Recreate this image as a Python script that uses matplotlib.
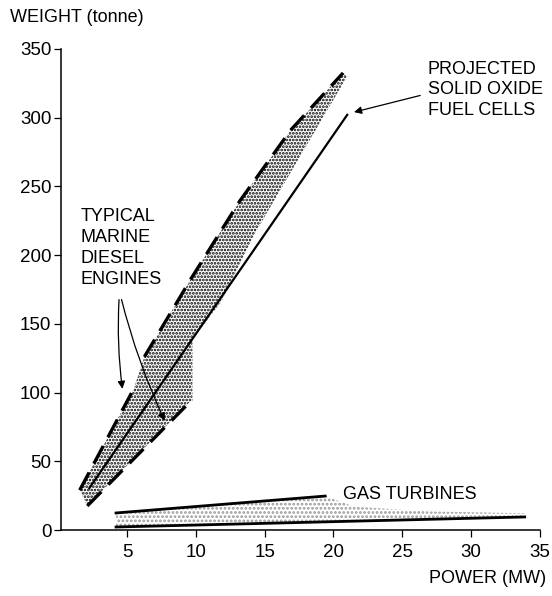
#!/usr/bin/env python3
"""Weight vs power: marine diesels, SOFC and gas turbines."""

import matplotlib

matplotlib.use("Agg")
import matplotlib.pyplot as plt

plt.rcParams["font.family"] = ["Liberation Sans", "DejaVu Sans"]
plt.rcParams["hatch.linewidth"] = 1.3

# diesel band, left (dashed) edge, lower and upper parts
diesel_low_left_x = [1.56, 5.5]
diesel_low_left_y = [29, 103]
diesel_up_left_x = [6.26, 9.6, 13.17, 16.9, 20.7]
diesel_up_left_y = [126, 182, 239, 291, 332.5]
# diesel band, right (dashed) edge of the small engines
diesel_low_right_x = [2.11, 9.65]
diesel_low_right_y = [17.5, 94]
# undrawn right edge of the stippled area (top to bottom)
diesel_edge_x = [21.0, 18.7, 14.3, 11.9, 10.0, 9.75, 9.75]
diesel_edge_y = [330, 291, 216, 167, 142, 140, 94]

# projected solid oxide fuel cells
sofc_x = [2.26, 21.0]
sofc_y = [30.5, 302]

# gas turbines
gt_upper_x = [4.2, 19.4]
gt_upper_y = [12.4, 24.7]
gt_lower_x = [4.2, 33.9]
gt_lower_y = [2.2, 9.5]
gt_fade_x = [19.4, 21.5, 27.0, 33.9]
gt_fade_y = [24.7, 17.0, 13.5, 12.2]

x_ticks = [5, 10, 15, 20, 25, 30, 35]
y_ticks = [0, 50, 100, 150, 200, 250, 300, 350]


def main() -> int:
    fig = plt.figure(figsize=(5.52, 5.96), dpi=100)
    ax = fig.add_axes([0.1105, 0.1107, 0.978 - 0.1105, 0.918 - 0.1107])

    # diesel stipple
    poly_x = diesel_low_left_x + diesel_up_left_x + diesel_edge_x + diesel_low_right_x[::-1]
    poly_y = diesel_low_left_y + diesel_up_left_y + diesel_edge_y + diesel_low_right_y[::-1]
    ax.fill(poly_x, poly_y, facecolor="white", edgecolor="black", hatch=".....", linewidth=0)

    dash_kw = dict(color="black", lw=2.4, dashes=(6, 3), solid_capstyle="butt")
    ax.plot(diesel_low_left_x, diesel_low_left_y, **dash_kw)
    ax.plot(diesel_up_left_x, diesel_up_left_y, **dash_kw)
    ax.plot(diesel_low_right_x, diesel_low_right_y, **dash_kw)

    ax.plot(sofc_x, sofc_y, color="black", lw=1.6)

    # gas turbine stipple
    gpx = gt_upper_x + gt_fade_x[1:] + gt_lower_x[::-1]
    gpy = gt_upper_y + gt_fade_y[1:] + gt_lower_y[::-1]
    ax.fill(gpx, gpy, facecolor="white", edgecolor="#999999", hatch="....", linewidth=0)
    ax.plot(gt_upper_x, gt_upper_y, color="black", lw=2.0)
    ax.plot(gt_lower_x, gt_lower_y, color="black", lw=2.0)

    ax.set_xlim(0.2, 35)
    ax.set_ylim(0, 350)
    ax.set_xticks(x_ticks)
    ax.set_yticks(y_ticks)
    ax.tick_params(direction="out", length=5, width=0.9, labelsize=13.5)
    ax.tick_params(axis="x", pad=5)
    ax.tick_params(axis="y", pad=2)
    for side in ("top", "right"):
        ax.spines[side].set_visible(False)
    for side in ("left", "bottom"):
        ax.spines[side].set_linewidth(1.1)

    fs = 13
    ax.text(1.65, 234, "TYPICAL\nMARINE\nDIESEL\nENGINES", fontsize=fs,
            ha="left", va="top", linespacing=1.3)
    arrow = dict(arrowstyle="-|>", color="black", lw=0.9, mutation_scale=11)
    ax.annotate("", xy=(4.69, 100.7), xytext=(4.43, 169.6),
                arrowprops=dict(arrow, connectionstyle="arc3,rad=0.05"))
    ax.annotate("", xy=(7.82, 77.7), xytext=(4.55, 169.6),
                arrowprops=dict(arrow, connectionstyle="arc3,rad=0.05"))

    ax.text(26.85, 341, "PROJECTED\nSOLID OXIDE\nFUEL CELLS", fontsize=fs,
            ha="left", va="top", linespacing=1.25)
    ax.annotate("", xy=(21.3, 303.5), xytext=(26.5, 316.6), arrowprops=arrow)

    ax.text(20.66, 25.5, "GAS TURBINES", fontsize=fs, ha="left", va="center")

    fig.text(0.018, 0.97, "WEIGHT (tonne)", fontsize=fs, ha="left", va="center")
    fig.text(0.989, 0.030, "POWER (MW)", fontsize=fs, ha="right", va="center")

    fig.savefig("out.png", dpi=100)
    plt.close(fig)
    return 0


if __name__ == "__main__":
    raise SystemExit(main())
